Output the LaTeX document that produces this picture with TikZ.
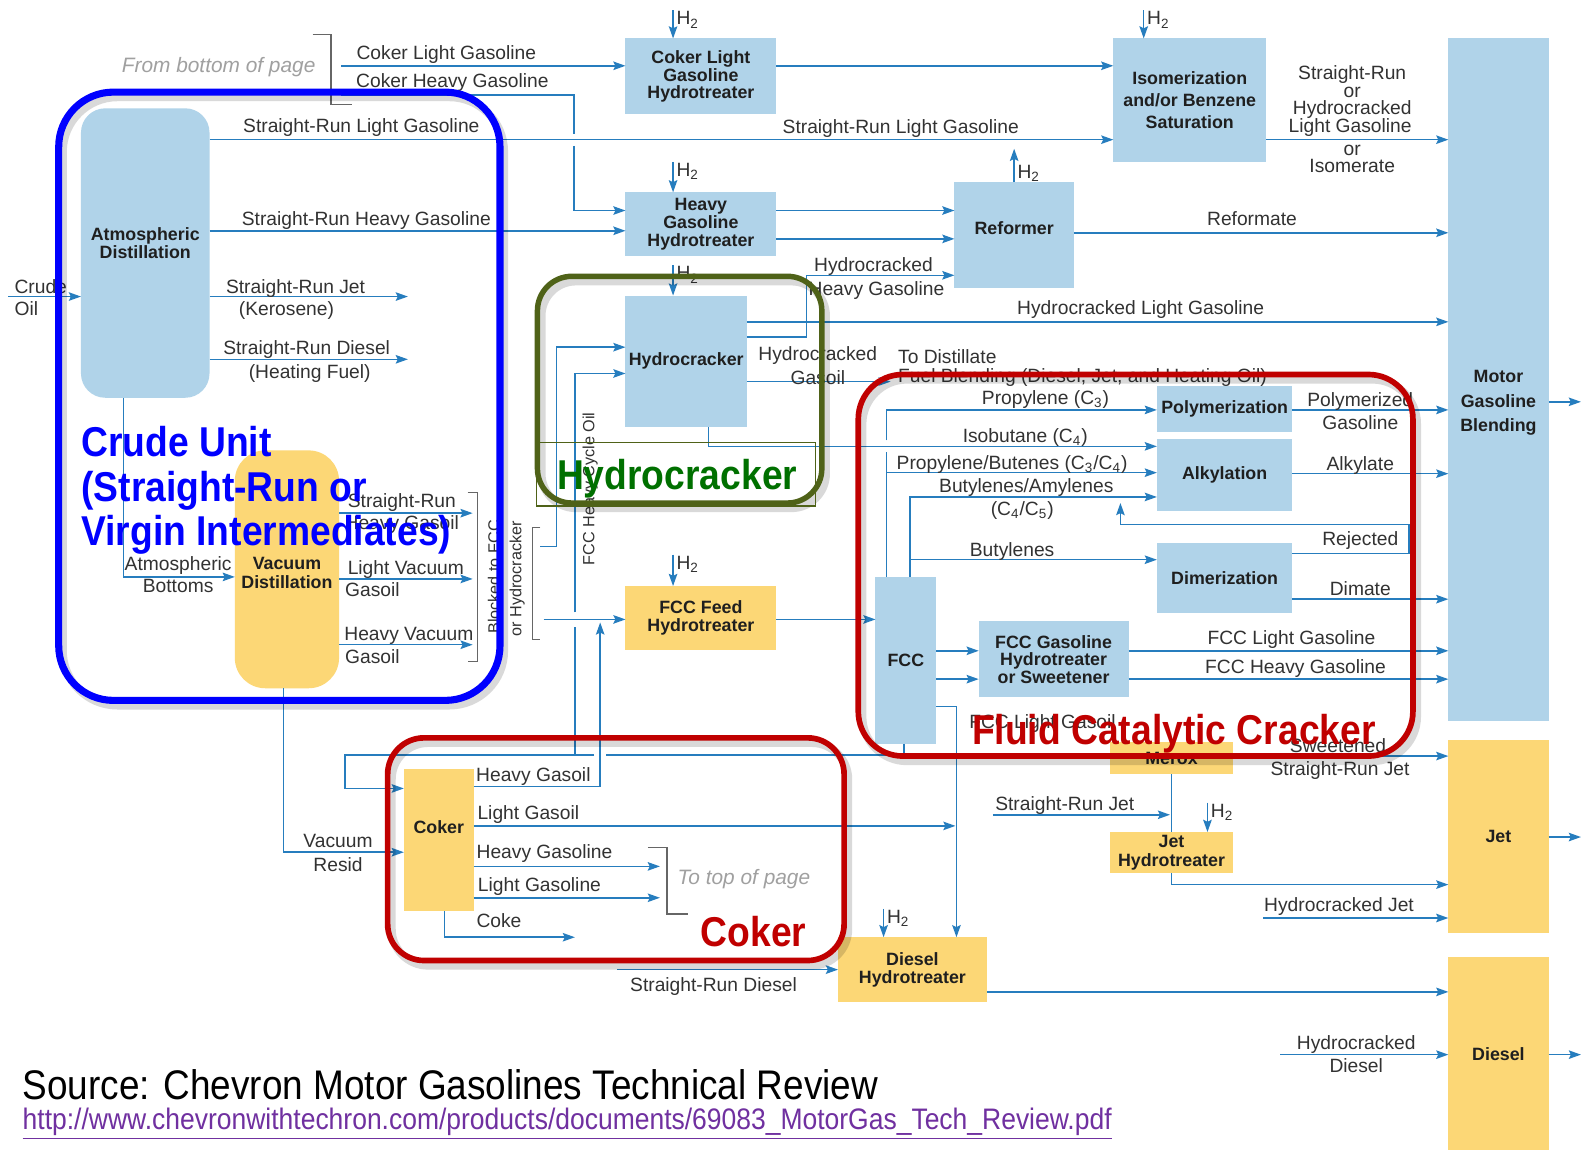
\documentclass[tikz,border=0pt]{standalone}
\usepackage{fontspec}
\setmainfont{Liberation Sans}
\usetikzlibrary{arrows.meta}
\definecolor{lc}{RGB}{38,125,190}
\definecolor{bf}{RGB}{176,211,233}
\definecolor{yf}{RGB}{252,215,118}
\definecolor{tc}{RGB}{50,50,50}
\definecolor{crudeblue}{RGB}{0,0,255}
\definecolor{hcgreen}{RGB}{79,98,24}
\definecolor{hctext}{RGB}{0,112,0}
\definecolor{fccred}{RGB}{192,0,0}
\definecolor{urlc}{RGB}{112,48,160}
\definecolor{gtxt}{RGB}{160,160,160}
\begin{document}
\begin{tikzpicture}[x=0.5pt,y=-0.5pt,
 ln/.style={draw=lc,line width=0.75pt},
 arr/.style={ln,-{Stealth[length=6pt,width=4.2pt,inset=1pt]}},
 brk/.style={draw=black!60,line width=0.55pt},
 unit/.style={inner sep=0,outer sep=0,font=\fontsize{8.8}{8.7}\selectfont\bfseries,text=black!88,align=center},
 bunit/.style={unit,fill=bf},
 yunit/.style={unit,fill=yf},
 lab/.style={inner sep=0,font=\fontsize{9.5}{11}\selectfont,text=tc,text height=6.6pt,text depth=0pt},
 vlab/.style={inner sep=0,font=\fontsize{8}{9}\selectfont,text=tc,rotate=90},
 glab/.style={inner sep=0,font=\fontsize{10.3}{12}\selectfont\itshape,text=gtxt,text height=7pt,text depth=0pt},
 big/.style={inner sep=0,font=\fontsize{18.4}{22}\selectfont\bfseries,anchor=base west},
 frame/.style={line width=#1},
 shadowline/.style={draw=black,opacity=0.15,line width=4pt}
]
\fill[white] (0,0) rectangle (1568,1136);
\useasboundingbox (0,0) rectangle (1568,1136);

% ---------------- units ----------------
\node[bunit,rounded corners=12pt,minimum width=63.5pt,minimum height=143pt] (atm) at (143.5,250) {};
\node[unit,font=\fontsize{8.8}{9}\selectfont\bfseries] (atmT) at (143.5,240) {Atmospheric\\Distillation};
\node[bunit,minimum width=74.5pt,minimum height=37.5pt] (clght) at (692.5,75.5) {Coker Light\\Gasoline\\Hydrotreater};
\node[bunit,minimum width=74.5pt,minimum height=31.5pt] (hght) at (692.5,221.5) {Heavy\\Gasoline\\Hydrotreater};
\node[bunit,minimum width=60pt,minimum height=65pt] (hcr) at (678,357) {Hydrocracker};
\node[bunit,minimum width=59pt,minimum height=52.5pt] (ref) at (1002,232.5) {};
\node[unit] (refT) at (1002,225) {Reformer};
\node[bunit,minimum width=75.5pt,minimum height=61pt,font=\fontsize{8.8}{11}\selectfont\bfseries] (iso) at (1175.5,99) {Isomerization\\and/or Benzene\\Saturation};
\node[bunit,minimum width=49.5pt,minimum height=337pt] (mgb) at (1480.5,375) {};
\node[unit,font=\fontsize{8.8}{12.3}\selectfont\bfseries] (mgbT) at (1480.5,398) {Motor\\Gasoline\\Blending};
\node[bunit,minimum width=67pt,minimum height=23pt] (poly) at (1210,404) {Polymerization};
\node[bunit,minimum width=67pt,minimum height=35.5pt] (alk) at (1210,469.5) {Alkylation};
\node[bunit,minimum width=67pt,minimum height=35pt] (dim) at (1210,571) {Dimerization};
\node[bunit,minimum width=30pt,minimum height=82.5pt] (fcc) at (895,652.5) {FCC};
\node[bunit,minimum width=74pt,minimum height=37.5pt] (fccg) at (1041,651.5) {FCC Gasoline\\Hydrotreater\\or Sweetener};
\node[yunit,minimum width=60.5pt,minimum height=16pt] (merox) at (1157.5,749) {Merox};
\node[yunit,minimum width=60.5pt,minimum height=20.5pt,font=\fontsize{8.8}{9}\selectfont\bfseries] (jht) at (1157.5,842.5) {Jet\\Hydrotreater};
\node[yunit,minimum width=49.5pt,minimum height=95.5pt] (jet) at (1480.5,826.5) {Jet};
\node[yunit,minimum width=49.5pt,minimum height=95pt] (diesel) at (1480.5,1041) {Diesel};
\node[yunit,minimum width=73.5pt,minimum height=32pt] (dht) at (901.5,958) {Diesel\\Hydrotreater};
\node[yunit,minimum width=74.5pt,minimum height=31.5pt] (fccf) at (692.5,610.5) {FCC Feed\\Hydrotreater};
\node[yunit,minimum width=34.5pt,minimum height=70pt] (coker) at (433.5,830) {};
\node[unit] (cokerT) at (433.5,817) {Coker};
\node[yunit,rounded corners=15pt,minimum width=51.5pt,minimum height=117.5pt] (vac) at (283.5,562.5) {};
\node[unit,font=\fontsize{8.8}{9}\selectfont\bfseries] (vacT) at (283.5,566) {Vacuum\\Distillation};

% ---------------- hydrogen ----------------
\foreach \n/\x/\y in {clght/665/10, iso/1130/10, hght/665/160, hcr/665/262, fccf/665/548, jht/1193/793, dht/873/898} {
  \coordinate (h2\n) at (\x,\y);
  \draw[arr] (h2\n) -- (h2\n |- \n.north);
  \node[lab,anchor=west] (h2l\n) at (\x+3,\y+8) {H\textsubscript{2}};
}
\coordinate (h2out) at (1002,147);
\draw[arr] (ref.north) -- (h2out);
\node[lab,anchor=west] (h2lref) at (1005,170) {H\textsubscript{2}};

% ---------------- top streams ----------------
\coordinate (crudeIn) at (8,293);
\draw[arr] (crudeIn) -- (atm.west |- crudeIn);
\coordinate (clgIn) at (337,65);
\draw[arr] (clgIn) -- (clght.west |- clgIn);
\coordinate (chgIn) at (337,94);
\draw[ln] (chgIn) -- (567,94) -- (567,132);
\draw[arr] (567,144) -- (567,208) -- (hght.west |- 0,208);
\draw[arr] (clght.east |- 0,65) -- (iso.west |- 0,65);
\draw[arr] (atm.east |- 0,138) -- (iso.west |- 0,138);
\draw[arr] (atm.east |- 0,228) -- (hght.west |- 0,228);
\coordinate (srjEnd) at (403,293);
\draw[arr] (atm.east |- srjEnd) -- (srjEnd);
\coordinate (srdEnd) at (403,355);
\draw[arr] (atm.east |- srdEnd) -- (srdEnd);
\draw[arr] (atm.south -| 122,0) -- (122,570) -- (vac.west |- 0,570);
\draw[arr] (hght.east |- 0,208) -- (ref.west |- 0,208);
\draw[arr] (hght.east |- 0,236) -- (ref.west |- 0,236);
\draw[arr] (hcr.east |- 0,333) -- (797,333) -- (797,272) -- (ref.west |- 0,272);
\draw[arr] (hcr.east |- 0,318) -- (mgb.west |- 0,318);
\coordinate (hgoEnd) at (880,377);
\draw[arr] (hcr.east |- hgoEnd) -- (hgoEnd);
\draw[arr] (hcr.south -| 700,0) -- (700,441) -- (alk.west |- 0,441);
\draw[arr] (ref.east |- 0,230) -- (mgb.west |- 0,230);
\draw[arr] (iso.east |- 0,138) -- (mgb.west |- 0,138);

% ---------------- hydrocracker / FCC feed ----------------
\draw[arr] (534,540) -- (550,540) -- (550,343) -- (hcr.west |- 0,343);
\draw[ln] (fcc.south -| 893,0) -- (893,746) -- (599,746);
\draw[ln] (587,746) -- (568,746) -- (568,619);
\draw[arr] (568,605) -- (568,369) -- (hcr.west |- 0,369);
\draw[arr] (568,746) -- (341,746) -- (341,779) -- (coker.west |- 0,779);
\draw[arr] (537,612) -- (fccf.west |- 0,612);
\draw[arr] (coker.east |- 0,777) -- (593,777) -- (593,615);
\draw[arr] (fccf.east |- 0,612) -- (fcc.west |- 0,612);

% ---------------- coker ----------------
\draw[arr] (coker.east |- 0,816) -- (944,816);
\draw[arr] (fcc.east |- 0,698) -- (945,698) -- (945,0 |- dht.north);
\draw[arr] (coker.east |- 0,856) -- (652,856);
\draw[arr] (coker.east |- 0,887) -- (652,887);
\draw[brk] (640,837) -- (659,837) -- (659,903) -- (680,903);
\draw[arr] (coker.south -| 439,0) -- (439,926) -- (568,926);
\draw[arr] (vac.south -| 280,0) -- (280,842) -- (coker.west |- 0,842);

% ---------------- vacuum outputs ----------------
\foreach \y in {507,572,637} { \draw[arr] (vac.east |- 0,\y) -- (467,\y); }
\draw[brk] (462,487) -- (472,487) -- (472,654) -- (462,654);
\draw[brk] (534,521) -- (526,521) -- (526,632) -- (534,632);
\draw[brk] (309,34) -- (327,34) -- (327,103) -- (348,103);

% ---------------- diesel / jet ----------------
\coordinate (srd2) at (610,958);
\draw[arr] (srd2) -- (dht.west |- srd2);
\draw[arr] (dht.east |- 0,980) -- (diesel.west |- 0,980);
\coordinate (hcd) at (1265,1042);
\draw[arr] (hcd) -- (diesel.west |- hcd);
\draw[arr] (mgb.east |- 0,397) -- (1562,397);
\draw[arr] (jet.east |- 0,827) -- (1562,827);
\draw[arr] (diesel.east |- 0,1042) -- (1562,1042);
\draw[arr] (merox.east |- 0,747) -- (jet.west |- 0,747);
\draw[ln] (merox.south) -- (jht.north);
\coordinate (srj2) at (981,805);
\draw[arr] (srj2) -- (1156,805);
\draw[arr] (jht.south) -- (1157.5,874) -- (jet.west |- 0,874);
\coordinate (hcj) at (1248,907);
\draw[arr] (hcj) -- (jet.west |- hcj);

% ---------------- FCC products ----------------
\draw[ln] (fcc.north -| 876,0) -- (876,447);
\draw[arr] (876,435) -- (876,405) -- (poly.west |- 0,405);
\draw[arr] (876,467) -- (alk.west |- 0,467);
\draw[arr] (fcc.north -| 899,0) -- (899,491) -- (alk.west |- 0,491);
\draw[arr] (899,553) -- (dim.west |- 0,553);
\draw[arr] (dim.east |- 0,547) -- (1392,547) -- (1392,518) -- (1107,518) -- (1107,497);
\draw[arr] (poly.east |- 0,405) -- (mgb.west |- 0,405);
\draw[arr] (alk.east |- 0,468) -- (mgb.west |- 0,468);
\draw[arr] (dim.east |- 0,592) -- (mgb.west |- 0,592);
\draw[arr] (fcc.east |- 0,643) -- (fccg.west |- 0,643);
\draw[arr] (fcc.east |- 0,671) -- (fccg.west |- 0,671);
\draw[arr] (fccg.east |- 0,643) -- (mgb.west |- 0,643);
\draw[arr] (fccg.east |- 0,671) -- (mgb.west |- 0,671);

% ---------------- labels ----------------
\node[glab] (fbop) at (216,65) {From bottom of page};
\node[glab] (ttop) at (735,867) {To top of page};
\node[lab] (l1) at (441,52) {Coker Light Gasoline};
\node[lab] (l2) at (447,80) {Coker Heavy Gasoline};
\node[lab] (l3) at (357,124) {Straight-Run Light Gasoline};
\node[lab] (l4) at (890,125) {Straight-Run Light Gasoline};
\node[lab] (l5) at (362,216) {Straight-Run Heavy Gasoline};
\node[lab] (l6) at (292,283) {Straight-Run Jet};
\node[lab] (l7) at (283,305) {(Kerosene)};
\node[lab] (l8) at (303,344) {Straight-Run Diesel};
\node[lab] (l9) at (306,367) {(Heating Fuel)};
\node[lab,anchor=west] (l10) at (14,283) {Crude};
\node[lab,anchor=west] (l11) at (14,305) {Oil};
\node[lab] (l12) at (863,262) {Hydrocracked};
\node[lab] (l13) at (866,285) {Heavy Gasoline};
\node[lab] (l14) at (1127,304) {Hydrocracked Light Gasoline};
\node[lab] (l15) at (1237,216) {Reformate};
\node[lab] (l16) at (1336,72) {Straight-Run};
\node[lab] (l17) at (1336,90) {or};
\node[lab] (l18) at (1336,107) {Hydrocracked};
\node[lab] (l19) at (1334,124) {Light Gasoline};
\node[lab] (l20) at (1336,147) {or};
\node[lab] (l21) at (1336,164) {Isomerate};
\node[lab] (l22) at (808,350) {Hydrocracked};
\node[lab] (l23) at (808,373) {Gasoil};
\node[lab,anchor=west] (l24) at (887,353) {To Distillate};
\node[lab,anchor=west] (l25) at (887,371) {Fuel Blending (Diesel, Jet, and Heating Oil)};
\node[lab] (l26) at (1033,393) {Propylene (C\textsubscript{3})};
\node[lab] (l27) at (1013,431) {Isobutane (C\textsubscript{4})};
\node[lab] (l28) at (1000,457) {Propylene/Butenes (C\textsubscript{3}/C\textsubscript{4})};
\node[lab] (l29) at (1014,480) {Butylenes/Amylenes};
\node[lab] (l30) at (1010,503) {(C\textsubscript{4}/C\textsubscript{5})};
\node[lab] (l31) at (1000,543) {Butylenes};
\node[lab] (l32) at (1344,395) {Polymerized};
\node[lab] (l33) at (1344,418) {Gasoline};
\node[lab] (l34) at (1344,458) {Alkylate};
\node[lab] (l35) at (1344,532) {Rejected};
\node[lab] (l36) at (1344,582) {Dimate};
\node[lab] (l37) at (1276,630) {FCC Light Gasoline};
\node[lab] (l38) at (1280,659) {FCC Heavy Gasoline};
\node[lab] (l39) at (1030,713) {FCC Light Gasoil};
\node[lab] (l40) at (1322,737) {Sweetened};
\node[lab] (l41) at (1324,760) {Straight-Run Jet};
\node[lab] (l42) at (1052,794) {Straight-Run Jet};
\node[lab] (l43) at (1323,894) {Hydrocracked Jet};
\node[lab] (l44) at (1340,1030) {Hydrocracked};
\node[lab] (l45) at (1340,1053) {Diesel};
\node[lab] (l46) at (705,973) {Straight-Run Diesel};
\node[lab] (l47) at (527,766) {Heavy Gasoil};
\node[lab] (l48) at (522,803) {Light Gasoil};
\node[lab] (l49) at (538,842) {Heavy Gasoline};
\node[lab] (l50) at (533,874) {Light Gasoline};
\node[lab] (l51) at (493,910) {Coke};
\node[lab] (l52) at (334,831) {Vacuum};
\node[lab] (l53) at (334,854) {Resid};
\node[lab] (l54) at (176,557) {Atmospheric};
\node[lab] (l55) at (176,579) {Bottoms};
\node[lab] (l56) at (397,495) {Straight-Run};
\node[lab] (l57) at (397,517) {Heavy Gasoil};
\node[lab] (l58) at (401,561) {Light Vacuum};
\node[lab] (l59) at (368,583) {Gasoil};
\node[lab] (l60) at (404,626) {Heavy Vacuum};
\node[lab] (l61) at (368,649) {Gasoil};
\node[vlab] (v1) at (488,570) {Blocked to FCC};
\node[vlab] (v2) at (511,572) {or Hydrocracker};
\node[vlab] (v3) at (583,483) {FCC Heavy Cycle Oil};

% ---------------- highlight frames ----------------
\draw[shadowline,rounded corners=27pt] (62,96) rectangle (498,697);
\draw[draw=crudeblue,line width=3.5pt,rounded corners=27pt] (58,91) rectangle (494,692);
\draw[shadowline,rounded corners=17pt] (535,278) rectangle (816,502);
\draw[draw=hcgreen,line width=2.7pt,rounded corners=17pt] (531,273) rectangle (812,497);
\draw[draw=hcgreen,line width=0.6pt] (530,437) rectangle (806,500);
\draw[shadowline,rounded corners=22pt] (852,375) rectangle (1400,752);
\draw[draw=fccred,line width=2.8pt,rounded corners=22pt] (848,370) rectangle (1396,747);
\draw[shadowline,rounded corners=18pt] (387,734) rectangle (838,954);
\draw[draw=fccred,line width=2.8pt,rounded corners=18pt] (383,729) rectangle (834,949);

\node[big,text=crudeblue] (cu1) at (80,451) {\scalebox{1}[1.12]{Crude Unit}};
\node[big,text=crudeblue] (cu2) at (80,495) {\scalebox{1}[1.12]{(Straight-Run or}};
\node[big,text=crudeblue] (cu3) at (80,539) {\scalebox{1}[1.12]{Virgin Intermediates)}};
\node[big,text=hctext] (hct) at (550,484) {\scalebox{1}[1.12]{Hydrocracker}};
\node[big,text=fccred] (fcct) at (960,736) {\scalebox{1}[1.12]{Fluid Catalytic Cracker}};
\node[big,text=fccred] (ckt) at (692,935) {\scalebox{1}[1.12]{Coker}};

% ---------------- source ----------------
\node[inner sep=0,anchor=base west,font=\fontsize{18.25}{20}\selectfont] (src) at (22,1086) {\scalebox{1}[1.12]{Source: Chevron Motor Gasolines Technical Review}};
\node[inner sep=0,anchor=base west,text=urlc,font=\fontsize{13.08}{15}\selectfont] (url) at (22,1116) {\scalebox{1}[1.12]{\underline{http://www.chevronwithtechron.com/products/documents/69083\_MotorGas\_Tech\_Review.pdf}}};
\end{tikzpicture}
\end{document}
